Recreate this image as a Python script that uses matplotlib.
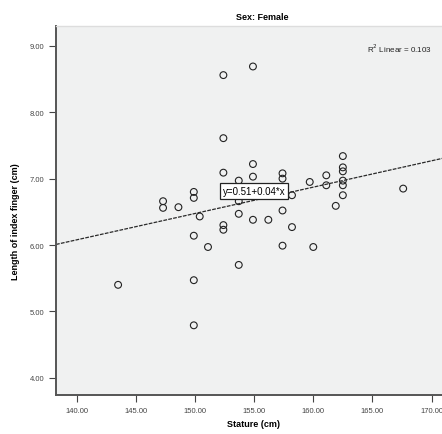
import numpy as np
import matplotlib
matplotlib.use('Agg')
import matplotlib.pyplot as plt

plt.rcParams['font.family'] = ['Liberation Sans', 'DejaVu Sans']

# stature (cm) and index finger length (cm), female subgroup
stature = [143.5, 147.3, 147.3, 148.6, 149.9, 149.9, 149.9, 149.9, 149.9,
           150.4, 151.1, 152.4, 152.4, 152.4, 152.4, 152.4, 153.7, 153.7,
           153.7, 153.7, 154.9, 154.9, 154.9, 154.9, 156.2, 157.4, 157.4,
           157.4, 157.4, 158.2, 158.2, 159.7, 160.0, 161.1, 161.1, 161.9,
           162.5, 162.5, 162.5, 162.5, 162.5, 162.5, 167.6]
finger = [5.40, 6.66, 6.56, 6.57, 6.80, 6.71, 6.14, 5.47, 4.79,
          6.43, 5.97, 8.56, 7.61, 7.09, 6.30, 6.23, 6.97, 6.66,
          6.47, 5.70, 8.69, 7.22, 7.03, 6.38, 6.38, 7.08, 7.00,
          6.52, 5.99, 6.75, 6.27, 6.95, 5.97, 7.05, 6.90, 6.59,
          7.34, 7.17, 7.11, 6.97, 6.90, 6.75, 6.85]

fit_intercept = 0.52
fit_slope = 0.0397
equation = 'y=0.51+0.04*x'
r2_text = 'R$^2$ Linear = 0.103'

xticks = [140, 145, 150, 155, 160, 165, 170]
yticks = [4, 5, 6, 7, 8, 9]

fig = plt.figure(figsize=(4.42, 4.35), dpi=100)
ax = fig.add_axes([56/442, 39/435, 412/442, 369/435])
ax.set_facecolor('#f0f1f1')

ax.scatter(stature, finger, s=24, facecolors='none', edgecolors='#222222',
           linewidths=0.8, zorder=3)

xl = np.array([138.25, 173.1])
ax.plot(xl, fit_intercept + fit_slope * xl, color='#2a2a2a', lw=0.9,
        ls=(0, (3, 1)), zorder=2)

ax.text(155.0, 6.81, equation, ha='center', va='center', fontsize=7,
        zorder=4, bbox=dict(boxstyle='square,pad=0.3', fc='white',
                            ec='#222222', lw=0.9))

ax.set_xlim(138.25, 173.08)
ax.set_ylim(3.74, 9.30)
ax.set_xticks(xticks)
ax.set_xticklabels(['%.2f' % t for t in xticks])
ax.set_yticks(yticks)
ax.set_yticklabels(['%.2f' % t for t in yticks])
ax.tick_params(labelsize=5.5, colors='#444444', length=5, width=0.8)

for side in ['left', 'bottom']:
    ax.spines[side].set_color('#555555')
    ax.spines[side].set_linewidth(1.4)
for side in ['top', 'right']:
    ax.spines[side].set_color('#dddddd')
    ax.spines[side].set_linewidth(1.0)

fig.text(367/442, 1 - 49/435, r2_text, fontsize=5.8, va='center',
         color='#222222')
fig.text(262/442, 1 - 18/435, 'Sex: Female', ha='center', va='center',
         fontsize=6.5, fontweight='bold')
fig.text(254/442, 1 - 425/435, 'Stature (cm)', ha='center', va='center',
         fontsize=6.5, fontweight='bold')
fig.text(16/442, 1 - 222/435, 'Length of index finger (cm)', ha='center',
         va='center', rotation=90, fontsize=6.5, fontweight='bold')

fig.savefig('out.png', dpi=100)
